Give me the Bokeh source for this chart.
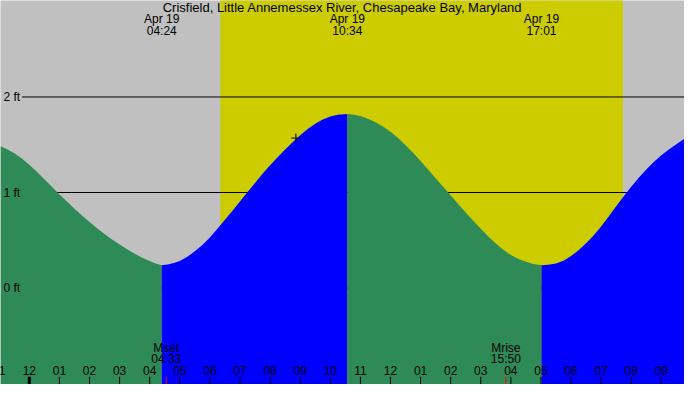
from bokeh.plotting import figure
from bokeh.models import Range1d
from bokeh.core.properties import value
from bokeh.embed import file_html
from bokeh.resources import INLINE

# ---------------- data (hours from midnight Apr 19, feet) ----------------
title = "Crisfield, Little Annemessex River, Chesapeake Bay, Maryland"

tide_hours = [-0.958, -0.75, -0.5, -0.25, 0.0, 0.25, 0.5, 0.75, 1.0, 1.25, 1.5, 1.75,
              2.0, 2.25, 2.5, 2.75, 3.0, 3.25, 3.5, 3.75, 4.0, 4.2, 4.4,
              4.6, 4.8, 5.0, 5.25, 5.5, 5.75, 6.0, 6.25, 6.5, 6.75, 7.0, 7.25, 7.5, 7.75,
              8.0, 8.25, 8.5, 8.75, 9.0, 9.25, 9.5, 9.75, 10.0, 10.25, 10.567,
              10.75, 11.0, 11.25, 11.5, 11.75, 12.0, 12.25, 12.5, 12.75, 13.0, 13.25, 13.5,
              13.75, 14.0, 14.25, 14.5, 14.75, 15.0, 15.25, 15.5, 15.75, 16.0, 16.25, 16.5,
              16.75, 17.017,
              17.25, 17.5, 17.75, 18.0, 18.25, 18.5, 18.75, 19.0, 19.25, 19.5, 19.75, 20.0,
              20.25, 20.5, 20.75, 21.0, 21.25, 21.5, 21.77]
tide_levels = [1.485, 1.455, 1.41, 1.355, 1.29, 1.217, 1.14, 1.06, 0.98, 0.905, 0.83, 0.758,
               0.69, 0.625, 0.565, 0.508, 0.455, 0.405, 0.36, 0.318, 0.282, 0.256, 0.239,
               0.246, 0.261, 0.283, 0.327, 0.385, 0.45, 0.53, 0.62, 0.715, 0.81, 0.905, 1.005,
               1.10, 1.195, 1.285, 1.37, 1.45, 1.525, 1.60, 1.665, 1.72, 1.765, 1.795, 1.813,
               1.821,
               1.816, 1.80, 1.772, 1.735, 1.69, 1.635, 1.57, 1.495, 1.415, 1.33, 1.24, 1.15,
               1.06, 0.97, 0.88, 0.79, 0.705, 0.62, 0.54, 0.465, 0.40, 0.345, 0.305, 0.275,
               0.252, 0.239,
               0.244, 0.258, 0.285, 0.335, 0.395, 0.47, 0.55, 0.645, 0.75, 0.855, 0.96, 1.06,
               1.155, 1.24, 1.32, 1.39, 1.45, 1.505, 1.563]

event_hours = [4.4, 10.567, 17.017]
event_dates = ["Apr 19", "Apr 19", "Apr 19"]
event_times = ["04:24", "10:34", "17:01"]

sunrise_hour = 6.35
sunset_hour = 19.72

moon_hours = [4.55, 15.833]
moon_names = ["Mset", "Mrise"]
moon_times = ["04:33", "15:50"]

now_hour = [8.857]
now_level = [1.57]

level_values = [0, 1, 2]
level_labels = ["0 ft", "1 ft", "2 ft"]

tick_hours = list(range(-1, 22))
tick_labels = ["11", "12", "01", "02", "03", "04", "05", "06", "07", "08", "09", "10",
               "11", "12", "01", "02", "03", "04", "05", "06", "07", "08", "09"]
midnight_hours = [0]

# ---------------- layout helpers (reference pixel -> data) ----------------
def hx(px):
    return (px - 29.5) / 30.8

def fy(py):
    return (299.5 - py) / 99.5

W, H = 684, 384
FONT = value("Liberation Sans")
GRAY = "#C0C0C0"
YELLOW = "#CCCC00"
GREEN = "#2E8B57"
BLUE = "#0000FF"

p = figure(width=W, height=H, output_backend="svg", toolbar_location=None,
           x_range=Range1d(hx(0), hx(700)), y_range=Range1d(fy(400), fy(0)),
           x_axis_type=None, y_axis_type=None, min_border=0)
p.grid.visible = False
p.outline_line_color = None
p.background_fill_color = GRAY
p.border_fill_color = GRAY

# daylight
p.quad(left=[sunrise_hour], right=[sunset_hour], bottom=[fy(400) - 1], top=[fy(0) + 1],
       fill_color=YELLOW, line_color=None)

# level lines
p.segment(x0=[hx(22)] * len(level_values), x1=[hx(702)] * len(level_values),
          y0=level_values, y1=level_values, line_color="black", line_width=1)

# tide fill, split at extremes: falling = green, rising = blue
bounds = [tide_hours[0]] + event_hours + [tide_hours[-1]]
colors = [GREEN, BLUE, GREEN, BLUE]
for i in range(len(bounds) - 1):
    xs = [t for t in tide_hours if bounds[i] <= t <= bounds[i + 1]]
    ys = [v for t, v in zip(tide_hours, tide_levels) if bounds[i] <= t <= bounds[i + 1]]
    p.varea(x=xs, y1=[fy(400) - 1] * len(xs), y2=ys, fill_color=colors[i])

# level labels
p.text(x=[hx(3)] * len(level_values), y=level_values, text=level_labels,
       text_align="left", text_baseline="middle", text_font=FONT,
       text_font_size="12px", text_color="black")

# title and event labels
p.text(x=[hx(350)], y=[fy(7.5)], text=[title], text_align="center", text_baseline="middle",
       text_font=FONT, text_font_size="13px", text_color="black")
p.text(x=event_hours, y=[fy(19.5)] * 3, text=event_dates, text_align="center",
       text_baseline="middle", text_font=FONT, text_font_size="12px", text_color="black")
p.text(x=event_hours, y=[fy(31.5)] * 3, text=event_times, text_align="center",
       text_baseline="middle", text_font=FONT, text_font_size="12px", text_color="black")

# current-time marker
p.scatter(x=now_hour, y=now_level, marker="cross", size=9, line_color="black", line_width=1)

# hour ticks and labels
p.segment(x0=tick_hours, x1=tick_hours, y0=[fy(392)] * len(tick_hours),
          y1=[fy(401)] * len(tick_hours), line_color="black", line_width=1)
p.segment(x0=midnight_hours, x1=midnight_hours, y0=[fy(392)], y1=[fy(401)],
          line_color="black", line_width=3)
p.text(x=tick_hours, y=[fy(385.5)] * len(tick_hours), text=tick_labels,
       text_align="center", text_baseline="middle", text_font=FONT,
       text_font_size="12px", text_color="black")

# moon events
p.segment(x0=moon_hours, x1=moon_hours, y0=[fy(392)] * 2, y1=[fy(401)] * 2,
          line_color="red", line_width=1)
p.text(x=moon_hours, y=[fy(361.5)] * 2, text=moon_names, text_align="center",
       text_baseline="middle", text_font=FONT, text_font_size="12px", text_color="black")
p.text(x=moon_hours, y=[fy(373.5)] * 2, text=moon_times, text_align="center",
       text_baseline="middle", text_font=FONT, text_font_size="12px", text_color="black")

open("out.html", "w").write(file_html(p, INLINE))
